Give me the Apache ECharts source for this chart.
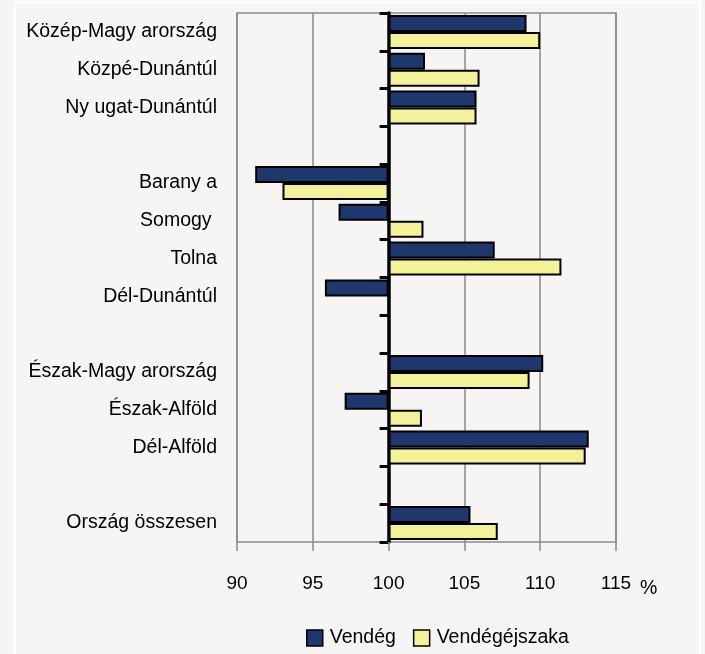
<!DOCTYPE html>
<html>
<head>
<meta charset="utf-8">
<script src="https://cdn.jsdelivr.net/npm/echarts@6/dist/echarts.min.js"></script>
<style>
  html, body { margin: 0; padding: 0; background: #f6f5f3; }
  #chart { width: 705px; height: 654px; }
</style>
</head>
<body>
<div id="chart"></div>
<script>
const categories = [
  'Közép-Magy arország', 'Közpé-Dunántúl', 'Ny ugat-Dunántúl', ' ',
  'Barany a', 'Somogy ', 'Tolna', 'Dél-Dunántúl', '  ',
  'Észak-Magy arország', 'Észak-Alföld', 'Dél-Alföld', '   ',
  'Ország összesen'
];
const vendeg = [109.1, 102.4, 105.8, null, 91.2, 96.7, 107.0, 95.8, null, 110.2, 97.1, 113.2, null, 105.4];
const vendegejszaka = [110.0, 106.0, 105.8, null, 93.0, 102.3, 111.4, 100.0, null, 109.3, 102.2, 113.0, null, 107.2];
const baseline = 100;
const xMin = 90;
const xMax = 115;
const xStep = 5;

const font = "'Liberation Sans', Arial, sans-serif";
const chart = echarts.init(document.getElementById('chart'));

function fromBase(values) {
  return values.map((v) => (v == null ? null : +(v - baseline).toFixed(2)));
}

chart.setOption({
  animation: false,
  backgroundColor: '#f6f5f3',
  textStyle: { fontFamily: font, color: '#000' },
  graphic: [
    {
      type: 'rect',
      shape: { x: 15, y: 2.5, width: 685, height: 700 },
      style: { fill: 'none', stroke: '#ffffff', lineWidth: 2 },
      silent: true
    }
  ],
  grid: {
    left: 237,
    right: 89,
    top: 13,
    bottom: 112,
    show: true,
    borderColor: '#8a8a8a',
    borderWidth: 1.5,
    backgroundColor: 'transparent'
  },
  legend: {
    left: 301,
    top: 623,
    itemWidth: 16,
    itemHeight: 16,
    itemGap: 17,
    icon: 'rect',
    itemStyle: { borderColor: '#000', borderWidth: 1.5 },
    textStyle: { fontFamily: font, fontSize: 19.5, color: '#000', padding: [0, 0, 0, 2] },
    data: ['Vendég', 'Vendégéjszaka']
  },
  xAxis: {
    type: 'value',
    min: xMin - baseline,
    max: xMax - baseline,
    interval: xStep,
    position: 'bottom',
    name: '%',
    nameLocation: 'end',
    nameGap: 24,
    nameTextStyle: {
      fontFamily: font,
      fontSize: 19.5,
      color: '#000',
      verticalAlign: 'top',
      padding: [37, 0, 0, 0]
    },
    axisLine: { onZero: false, lineStyle: { color: '#8a8a8a', width: 1.5 } },
    axisTick: { show: true, length: 9, lineStyle: { color: '#8a8a8a', width: 1.5 } },
    axisLabel: {
      margin: 32,
      fontFamily: font,
      fontSize: 19,
      color: '#000',
      formatter: (v) => String(v + baseline)
    },
    splitLine: { show: true, lineStyle: { color: '#8a8a8a', width: 1.5 } }
  },
  yAxis: [
    {
      type: 'category',
      data: categories,
      inverse: true,
      position: 'left',
      axisLine: { show: false, onZero: false },
      axisTick: { show: false },
      axisLabel: {
        margin: 20,
        fontFamily: font,
        fontSize: 19.5,
        color: '#000'
      }
    },
    {
      type: 'category',
      data: categories,
      inverse: true,
      position: 'left',
      axisLine: { show: true, onZero: true, onZeroAxisIndex: 0, lineStyle: { color: '#000', width: 3.5 } },
      axisTick: { show: true, length: 9, lineStyle: { color: '#000', width: 3 } },
      axisLabel: { show: false }
    }
  ],
  series: [
    {
      name: 'Vendég',
      type: 'bar',
      yAxisIndex: 0,
      barGap: '0%',
      barCategoryGap: '10%',
      itemStyle: { color: '#1e376c', borderColor: '#000', borderWidth: 2 },
      data: fromBase(vendeg)
    },
    {
      name: 'Vendégéjszaka',
      type: 'bar',
      yAxisIndex: 0,
      barGap: '0%',
      barCategoryGap: '10%',
      itemStyle: { color: '#f4f299', borderColor: '#000', borderWidth: 2 },
      data: fromBase(vendegejszaka)
    }
  ]
});

window.addEventListener('resize', () => {
  chart.resize();
});
</script>
</body>
</html>
